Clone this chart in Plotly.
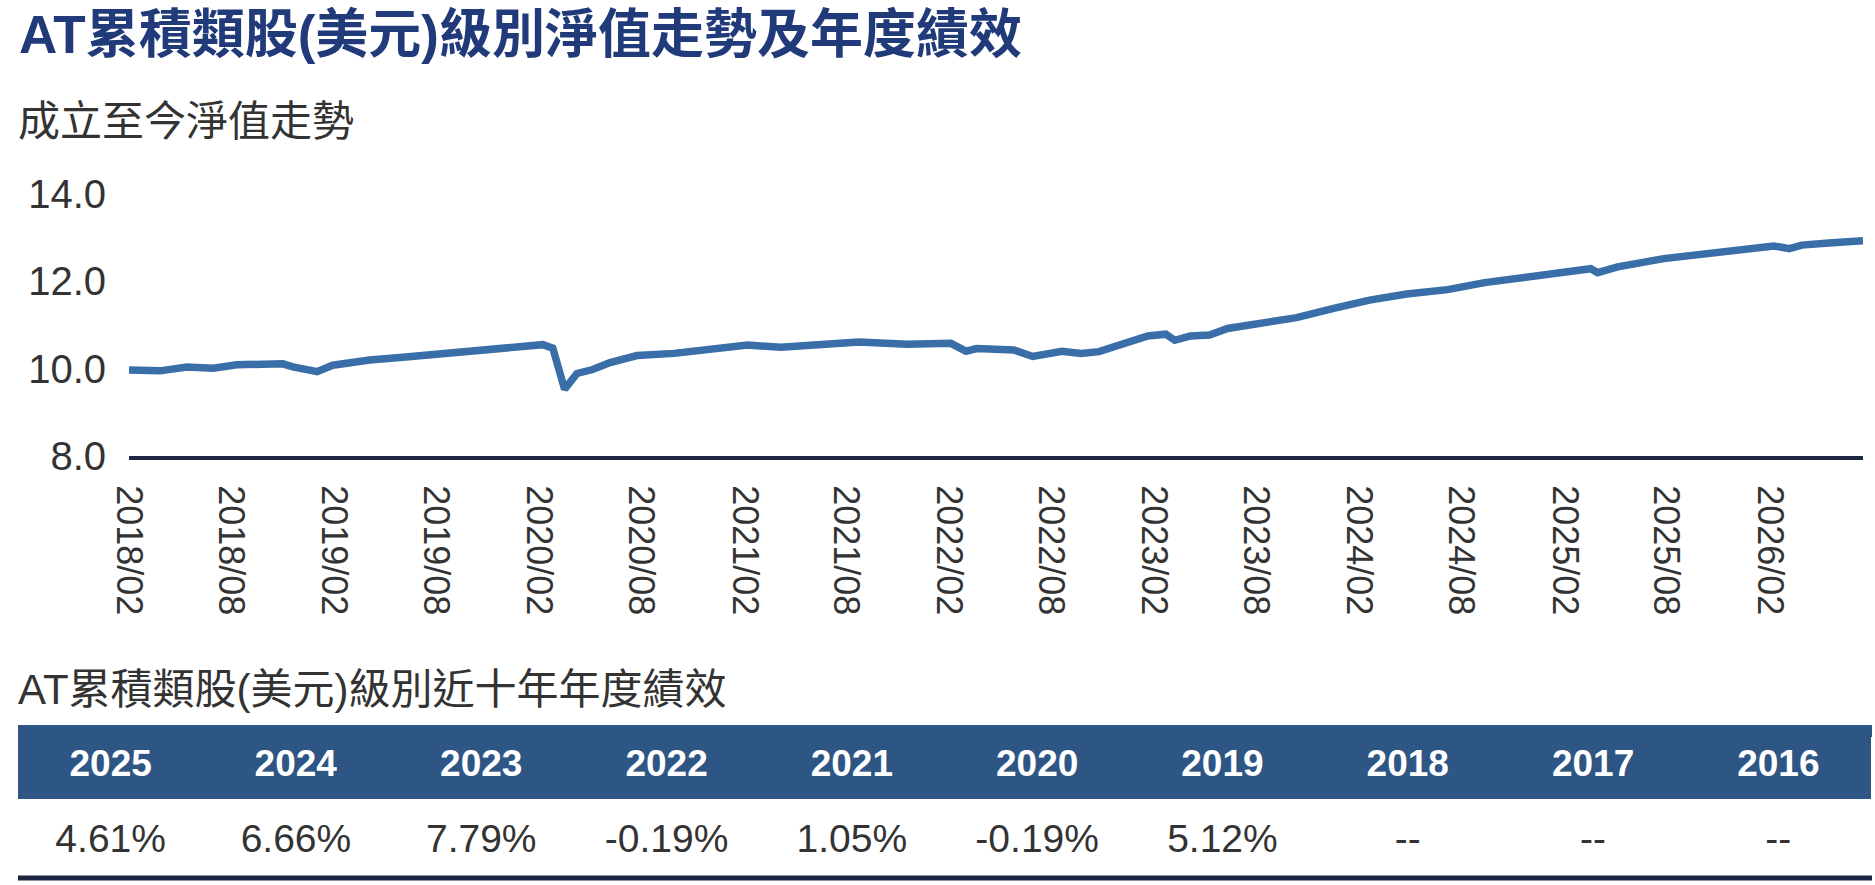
import plotly.graph_objects as go

# NAV history
nav_dates = [
    "2018-02-01", "2018-03-28", "2018-05-15", "2018-07-01", "2018-08-12",
    "2018-11-02", "2018-11-20", "2019-01-02", "2019-01-30", "2019-04-06",
    "2019-06-04", "2019-07-27", "2019-09-30", "2019-11-28", "2020-02-08",
    "2020-02-26", "2020-03-10", "2020-03-18", "2020-04-09", "2020-05-07",
    "2020-06-07", "2020-07-25", "2020-09-29", "2020-12-04", "2021-02-07",
    "2021-04-07", "2021-06-19", "2021-08-24", "2021-11-18", "2022-02-04",
    "2022-03-03", "2022-03-22", "2022-05-27", "2022-06-30", "2022-08-21",
    "2022-09-24", "2022-10-26", "2022-12-11", "2023-01-21", "2023-02-22",
    "2023-03-10", "2023-04-07", "2023-05-11", "2023-06-12", "2023-08-17",
    "2023-10-13", "2023-12-18", "2024-02-20", "2024-04-26", "2024-07-08",
    "2024-09-12", "2024-11-24", "2025-03-20", "2025-04-01", "2025-05-07",
    "2025-07-28", "2025-10-27", "2026-02-09", "2026-03-09", "2026-03-31",
    "2026-05-18", "2026-07-18",
]
nav_values = [
    9.97, 9.95, 10.04, 10.01, 10.09,
    10.11, 10.04, 9.93, 10.08, 10.20,
    10.26, 10.33, 10.38, 10.46, 10.55,
    10.47, 9.97, 9.53, 9.89, 9.98,
    10.14, 10.30, 10.35, 10.45, 10.54,
    10.49, 10.56, 10.61, 10.56, 10.58,
    10.40, 10.46, 10.43, 10.28, 10.40,
    10.35, 10.39, 10.56, 10.75, 10.79,
    10.65, 10.75, 10.77, 10.92, 11.07,
    11.17, 11.38, 11.57, 11.71, 11.81,
    11.97, 12.10, 12.29, 12.20, 12.33,
    12.52, 12.65, 12.81, 12.75, 12.83,
    12.88, 12.93,
]

# x tick labels, every six months
tick_dates = [
    "2018-02-01", "2018-08-01", "2019-02-01", "2019-08-01", "2020-02-01",
    "2020-08-01", "2021-02-01", "2021-08-01", "2022-02-01", "2022-08-01",
    "2023-02-01", "2023-08-01", "2024-02-01", "2024-08-01", "2025-02-01",
    "2025-08-01", "2026-02-01",
]
tick_labels = [d[:7].replace("-", "/") for d in tick_dates]
y_ticks = [8.0, 10.0, 12.0, 14.0]

# yearly performance table
perf_years = ["2025", "2024", "2023", "2022", "2021", "2020", "2019", "2018", "2017", "2016"]
perf_values = ["4.61%", "6.66%", "7.79%", "-0.19%", "1.05%", "-0.19%", "5.12%", "--", "--", "--"]

W, H = 1875, 885
LATIN = "Liberation Sans, Arial, Noto Sans CJK TC, sans-serif"
HEAD_BLUE = "#2e5685"
NAVY = "#1c2541"

def py(px):
    # pixel from top -> paper y
    return 1 - px / H

def pxx(px):
    return px / W

fig = go.Figure()

fig.add_trace(go.Scatter(
    x=nav_dates, y=nav_values, mode="lines",
    line=dict(color="#3a6ea8", width=7.5),
    hoverinfo="x+y", showlegend=False,
))

# table text is top-aligned in plotly, so the table sits a bit low
# and shapes below patch the header band back to its real extent
fig.add_trace(go.Table(
    domain=dict(x=[pxx(18), pxx(1872)], y=[py(885), py(735)]),
    columnwidth=[1] * len(perf_years),
    header=dict(
        values=["<b>%s</b>" % y for y in perf_years],
        fill_color=HEAD_BLUE, line_color=HEAD_BLUE,
        font=dict(family=LATIN, size=37, color="white"),
        align="center", height=80,
    ),
    cells=dict(
        values=[[v] for v in perf_values],
        fill_color="white", line_color="white",
        font=dict(family=LATIN, size=39, color="#333333"),
        align="center", height=62,
    ),
))

fig.update_xaxes(
    domain=[pxx(129), pxx(1863)],
    range=[nav_dates[0], nav_dates[-1]],
    tickvals=tick_dates, ticktext=tick_labels, tickangle=90,
    tickfont=dict(family=LATIN, size=36, color="#333333"),
    showgrid=False, zeroline=False,
    showline=True, linecolor=NAVY, linewidth=4,
    ticks="", ticklabelstandoff=18, automargin=False,
)
fig.update_yaxes(
    domain=[py(456), py(194)],
    range=[8, 14], tickvals=y_ticks, tickformat=".1f",
    tickfont=dict(family=LATIN, size=40, color="#333333"),
    showgrid=False, zeroline=False, showline=False,
    ticks="", ticklabelstandoff=22, automargin=False,
)

fig.add_shape(type="rect", xref="paper", yref="paper", layer="above",
              x0=pxx(18), x1=pxx(1872), y0=py(737), y1=py(725),
              fillcolor=HEAD_BLUE, line_width=0)
fig.add_shape(type="rect", xref="paper", yref="paper", layer="above",
              x0=pxx(17), x1=pxx(1873), y0=py(818), y1=py(799),
              fillcolor="white", line_width=0)
fig.add_shape(type="line", xref="paper", yref="paper", layer="above",
              x0=pxx(18), x1=pxx(1872), y0=py(878), y1=py(878),
              line=dict(color=NAVY, width=5))

fig.add_annotation(text="<b>AT累積類股(美元)級別淨值走勢及年度績效</b>",
                   xref="paper", yref="paper", x=pxx(17), y=py(34),
                   xanchor="left", yanchor="middle", showarrow=False,
                   font=dict(family=LATIN, size=53, color="#203a7a"))
fig.add_annotation(text="成立至今淨值走勢",
                   xref="paper", yref="paper", x=pxx(16), y=py(122),
                   xanchor="left", yanchor="middle", showarrow=False,
                   font=dict(family=LATIN, size=42, color="#333333"))
fig.add_annotation(text="AT累積類股(美元)級別近十年年度績效",
                   xref="paper", yref="paper", x=pxx(16), y=py(689),
                   xanchor="left", yanchor="middle", showarrow=False,
                   font=dict(family=LATIN, size=42, color="#333333"))

fig.update_layout(
    width=W, height=H,
    margin=dict(l=0, r=0, t=0, b=0),
    paper_bgcolor="white", plot_bgcolor="white",
    showlegend=False,
)

# drop the default 8px body margin so the figure fills the window
fig.write_html("out.html",
               config={"displayModeBar": False},
               post_script="document.body.style.margin='0px';"
                           "document.body.style.overflow='hidden';")
